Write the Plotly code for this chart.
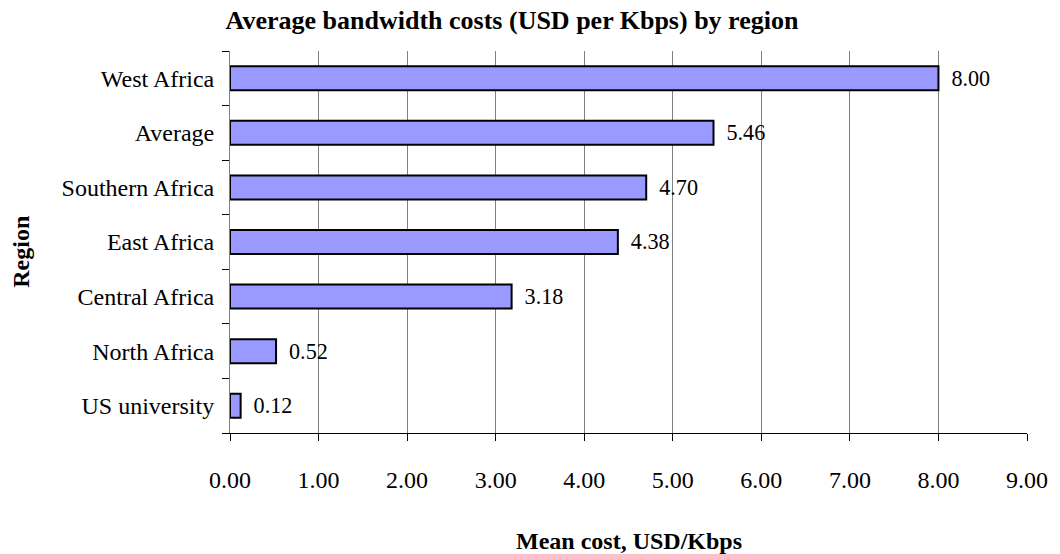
import plotly.graph_objects as go

# Regions listed bottom-to-top as drawn on the category axis
regions = ["US university", "North Africa", "Central Africa", "East Africa",
           "Southern Africa", "Average", "West Africa"]
mean_cost = [0.12, 0.52, 3.18, 4.38, 4.70, 5.46, 8.00]
x_ticks = [0, 1, 2, 3, 4, 5, 6, 7, 8, 9]
x_tick_labels = ["0.00", "1.00", "2.00", "3.00", "4.00", "5.00",
                 "6.00", "7.00", "8.00", "9.00"]

SERIF = "Liberation Serif, Times New Roman, serif"

fig = go.Figure(go.Bar(
    y=regions,
    x=mean_cost,
    orientation="h",
    width=0.44,
    marker=dict(color="#9999FF", line=dict(color="#000000", width=2)),
    texttemplate=" \u2009%{x:.2f}",
    textposition="outside",
    textfont=dict(family=SERIF, size=24, color="#000000"),
    cliponaxis=False,
    hoverinfo="x+y",
))

fig.update_layout(
    width=1060, height=554,
    margin=dict(l=230, r=30, t=51, b=121),
    paper_bgcolor="white", plot_bgcolor="white",
    font=dict(family=SERIF, size=24, color="#000000"),
    showlegend=False,
    title=dict(text="<b>Average bandwidth costs (USD per Kbps) by region</b>",
               x=512 / 1060, xanchor="center", y=1 - 20 / 554, yanchor="middle",
               font=dict(family=SERIF, size=26)),
    xaxis=dict(
        range=[0, 9], tickvals=x_ticks, ticktext=x_tick_labels,
        showgrid=True, gridcolor="#808080", gridwidth=1,
        showline=True, linecolor="#000000", linewidth=1,
        ticks="outside", ticklen=7, tickcolor="#000000",
        ticklabelstandoff=18,
        zeroline=False, tickfont=dict(family=SERIF, size=24),
    ),
    yaxis=dict(
        categoryorder="array", categoryarray=regions,
        range=[-0.5, 6.5],
        showgrid=False, showline=True, linecolor="#808080", linewidth=1,
        ticks="outside", tickson="boundaries", ticklen=7, tickcolor="#000000",
        ticklabelstandoff=10, tickfont=dict(family=SERIF, size=24),
    ),
    annotations=[
        dict(text="<b>Region</b>", xref="paper", yref="paper",
             x=(20 - 230) / 800, y=0.474, showarrow=False, textangle=-90,
             xanchor="center", yanchor="middle",
             font=dict(family=SERIF, size=24)),
        dict(text="<b>Mean cost, USD/Kbps</b>", xref="paper", yref="paper",
             x=0.5, y=-0.283, showarrow=False,
             xanchor="center", yanchor="middle",
             font=dict(family=SERIF, size=24)),
    ],
)

fig.write_html("out.html")
